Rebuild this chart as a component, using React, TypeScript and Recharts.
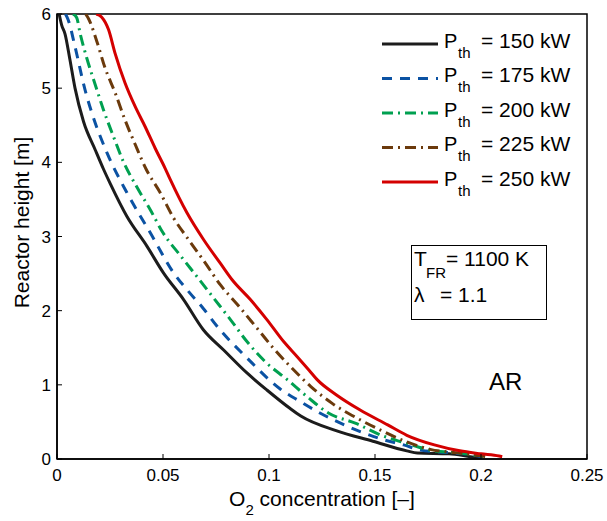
import React from 'react';
import { LineChart, Line, XAxis, YAxis, ReferenceArea, Legend, Label } from 'recharts';

const FONT = '"Liberation Sans", Arial, Helvetica, sans-serif';

const xTicks = [0, 0.05, 0.1, 0.15, 0.2, 0.25];
const yTicks = [0, 1, 2, 3, 4, 5, 6];

const powers = ['150', '175', '200', '225', '250'];
const colors = ['#1c1c1c', '#0b52a3', '#00a050', '#6b3a0c', '#d40000'];
const dashes = ['', '10 8', '11 5 2 5', '11 5 2 5', ''];

// O2 concentration [-] and height [m] along each profile (top to bottom)
const o2_150 = [0.001, 0.0022, 0.0038, 0.006, 0.0085, 0.0125, 0.018, 0.0219, 0.025, 0.033, 0.0424, 0.0502, 0.0597, 0.0691, 0.0786, 0.0896, 0.099, 0.11, 0.115, 0.132, 0.149, 0.165, 0.17, 0.185, 0.195, 0.2];
const h_150 = [6.0, 5.85, 5.73, 5.4, 5.0, 4.55, 4.17, 3.91, 3.72, 3.27, 2.87, 2.51, 2.15, 1.74, 1.47, 1.16, 0.93, 0.68, 0.58, 0.38, 0.24, 0.11, 0.08, 0.07, 0.03, 0.01];

const o2_175 = [0.004, 0.0053, 0.0085, 0.0132, 0.0164, 0.0237, 0.033, 0.044, 0.055, 0.062, 0.069, 0.0755, 0.0897, 0.105, 0.115, 0.124, 0.134, 0.143, 0.154, 0.1635, 0.1715, 0.187, 0.197, 0.201];
const h_175 = [6.0, 5.92, 5.56, 4.98, 4.67, 4.12, 3.59, 3.05, 2.51, 2.26, 2.03, 1.79, 1.36, 0.95, 0.77, 0.62, 0.48, 0.37, 0.26, 0.19, 0.12, 0.08, 0.05, 0.02];

const o2_200 = [0.0075, 0.0093, 0.0109, 0.014, 0.018, 0.0219, 0.0266, 0.0313, 0.0376, 0.044, 0.05, 0.058, 0.066, 0.0739, 0.0818, 0.0897, 0.0983, 0.1086, 0.118, 0.128, 0.141, 0.153, 0.165, 0.176, 0.19, 0.201];
const h_200 = [6.0, 5.95, 5.74, 5.41, 5.05, 4.71, 4.35, 4.01, 3.67, 3.36, 3.05, 2.75, 2.46, 2.17, 1.88, 1.58, 1.31, 1.07, 0.84, 0.62, 0.48, 0.32, 0.21, 0.12, 0.08, 0.03];

const o2_225 = [0.0135, 0.015, 0.0188, 0.0227, 0.0274, 0.0321, 0.0369, 0.042, 0.0487, 0.055, 0.062, 0.07, 0.077, 0.0855, 0.0936, 0.1022, 0.111, 0.1196, 0.1298, 0.1416, 0.1526, 0.165, 0.176, 0.19, 0.203];
const h_225 = [6.0, 5.93, 5.63, 5.27, 4.94, 4.57, 4.24, 3.91, 3.59, 3.25, 2.96, 2.64, 2.35, 2.07, 1.79, 1.49, 1.22, 0.98, 0.75, 0.55, 0.39, 0.23, 0.13, 0.08, 0.03];

const o2_250 = [0.0185, 0.021, 0.0243, 0.0274, 0.0321, 0.0369, 0.0416, 0.0463, 0.051, 0.0534, 0.0613, 0.0691, 0.077, 0.0825, 0.0912, 0.099, 0.107, 0.1133, 0.1188, 0.1227, 0.132, 0.143, 0.156, 0.165, 0.178, 0.19, 0.2, 0.2085, 0.21];
const h_250 = [6.0, 5.96, 5.79, 5.47, 5.07, 4.75, 4.48, 4.19, 3.92, 3.77, 3.32, 2.96, 2.64, 2.42, 2.15, 1.88, 1.58, 1.38, 1.2, 1.07, 0.86, 0.66, 0.46, 0.32, 0.19, 0.11, 0.07, 0.04, 0.03];

const zip = (xs: number[], ys: number[]) => xs.map((x, i) => ({ x, y: ys[i] }));
const seriesData = [
  zip(o2_150, h_150),
  zip(o2_175, h_175),
  zip(o2_200, h_200),
  zip(o2_225, h_225),
  zip(o2_250, h_250),
];

const XTick = (props: any) => {
  const { x, y, payload } = props;
  return (
    <g>
      <line x1={x} y1={y} x2={x} y2={y - 5} stroke="#000" strokeWidth={1} />
      <text x={x} y={y + 22} textAnchor="middle" fontFamily={FONT} fontSize={17} fill="#000">
        {String(payload.value)}
      </text>
    </g>
  );
};

const YTick = (props: any) => {
  const { x, y, payload } = props;
  return (
    <g>
      <line x1={x} y1={y} x2={x + 5} y2={y} stroke="#000" strokeWidth={1} />
      <text x={x - 6} y={y + 6} textAnchor="end" fontFamily={FONT} fontSize={17} fill="#000">
        {String(payload.value)}
      </text>
    </g>
  );
};

const XLabel = (props: any) => {
  const vb = props.viewBox || {};
  const cx = vb.x + vb.width / 2;
  const by = vb.y + 47;
  return (
    <text x={cx} y={by} textAnchor="middle" fontFamily={FONT} fontSize={21} fill="#000">
      O<tspan fontSize={15} dy={9}>2</tspan>
      <tspan dy={-9}> concentration [–]</tspan>
    </text>
  );
};

const YLabel = (props: any) => {
  const vb = props.viewBox || {};
  const cx = 29;
  const cy = vb.y + vb.height / 2 - 14;
  return (
    <text
      x={cx}
      y={cy}
      transform={`rotate(-90 ${cx} ${cy})`}
      textAnchor="middle"
      fontFamily={FONT}
      fontSize={21}
      fill="#000"
    >
      Reactor height [m]
    </text>
  );
};

const LegendContent = () => (
  <svg width={215} height={180} style={{ display: 'block', overflow: 'visible' }}>
    {powers.map((p, i) => {
      const cy = 18 + 34.5 * i;
      return (
        <g key={p}>
          <line
            x1={6}
            y1={cy}
            x2={62}
            y2={cy}
            stroke={colors[i]}
            strokeWidth={3}
            strokeDasharray={dashes[i] || undefined}
          />
          <text x={68} y={cy + 3.5} fontFamily={FONT} fontSize={20} fill="#000">P</text>
          <text x={82} y={cy + 13.5} fontFamily={FONT} fontSize={15} fill="#000">th</text>
          <text x={105} y={cy + 3.5} fontFamily={FONT} fontSize={21} fill="#000">{`= ${p} kW`}</text>
        </g>
      );
    })}
  </svg>
);

export default function App() {
  return (
    <div style={{ position: 'absolute', left: 0, top: 0, width: 607, height: 521, background: '#fff' }}>
      <LineChart
        width={607}
        height={521}
        margin={{ top: 14, right: 20, bottom: 0, left: 0 }}
        style={{ fontFamily: FONT }}
      >
        <XAxis
          dataKey="x"
          type="number"
          domain={[0, 0.25]}
          ticks={xTicks}
          allowDataOverflow
          height={62}
          tickSize={0}
          tickMargin={0}
          tickLine={false}
          axisLine={{ stroke: '#000', strokeWidth: 1.5 }}
          tick={<XTick />}
          interval={0}
        >
          <Label content={<XLabel />} position="bottom" />
        </XAxis>
        <YAxis
          dataKey="y"
          type="number"
          domain={[0, 6]}
          ticks={yTicks}
          allowDataOverflow
          width={57}
          tickSize={0}
          tickMargin={0}
          tickLine={false}
          axisLine={{ stroke: '#000', strokeWidth: 1.5 }}
          tick={<YTick />}
          interval={0}
        >
          <Label content={<YLabel />} position="left" />
        </YAxis>
        <ReferenceArea
          x1={0}
          x2={0.25}
          y1={0}
          y2={6}
          fill="none"
          fillOpacity={0}
          stroke="#000"
          strokeWidth={1.5}
          strokeOpacity={1}
          ifOverflow="visible"
        />
        {seriesData.map((d, i) => (
          <Line
            key={powers[i]}
            data={d}
            dataKey="y"
            name={`P_th = ${powers[i]} kW`}
            type="monotone"
            stroke={colors[i]}
            strokeWidth={3}
            strokeDasharray={dashes[i] || undefined}
            dot={false}
            activeDot={false}
            isAnimationActive={false}
          />
        ))}
        <Legend
          layout="vertical"
          align="center"
          verticalAlign="middle"
          content={<LegendContent />}
          wrapperStyle={{ top: 26, left: 376, width: 215, height: 180 }}
        />
      </LineChart>
      <svg
        width={607}
        height={521}
        style={{ position: 'absolute', left: 0, top: 0, pointerEvents: 'none' }}
      >
        <rect x={411.5} y={245.5} width={135} height={74} fill="#fff" stroke="#000" strokeWidth={1} />
        <text x={414} y={266} fontFamily={FONT} fontSize={21} fill="#000">T</text>
        <text x={426} y={278} fontFamily={FONT} fontSize={15} fill="#000">FR</text>
        <text x={446} y={266} fontFamily={FONT} fontSize={21} fill="#000">= 1100 K</text>
        <text x={414} y={302} fontFamily={FONT} fontSize={21} fill="#000">λ</text>
        <text x={440} y={302} fontFamily={FONT} fontSize={21} fill="#000">= 1.1</text>
        <text x={489} y={390} fontFamily={FONT} fontSize={24} fill="#000">AR</text>
      </svg>
    </div>
  );
}
